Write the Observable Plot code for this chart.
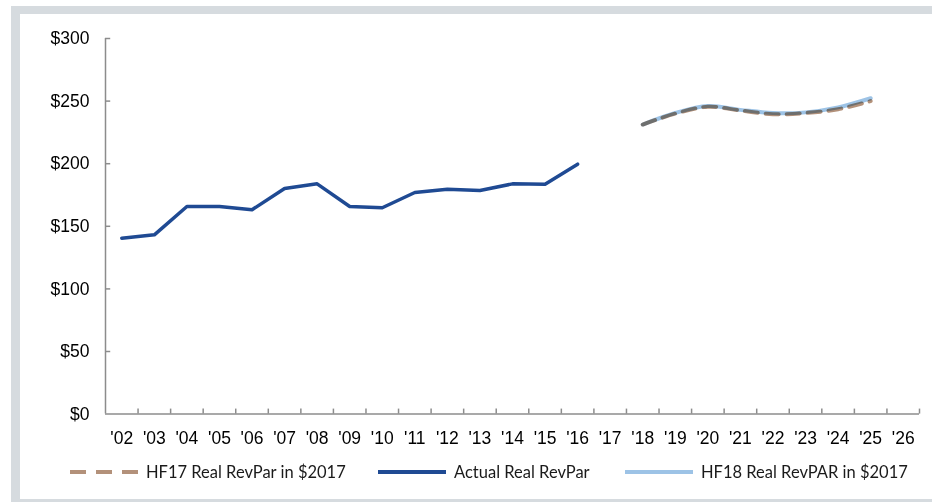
<!DOCTYPE html>
<html><head><meta charset="utf-8">
<script src="https://cdn.jsdelivr.net/npm/d3@7"></script>
<script src="https://cdn.jsdelivr.net/npm/@observablehq/plot@0.6"></script>
<style>
html,body{margin:0;padding:0;background:#fff;width:932px;height:502px;overflow:hidden}
#frame{position:absolute;left:11px;top:6px;width:921px;height:496px;background:#d6dbdf}
#inner{position:absolute;left:20px;top:14px;width:912px;height:485px;background:#fff}
#chart{position:absolute;left:0;top:0}
#legend{position:absolute;top:462px;left:0;width:932px;height:20px;font-family:Lato, "Noto Sans", sans-serif;font-size:16.5px;color:#1a1a1a}
.item{position:absolute;top:0;display:flex;align-items:center;height:20px;white-space:nowrap}
.item svg{margin-right:8px}
</style>
</head><body>
<div id="frame"></div>
<div id="inner"></div>
<div id="chart"></div>
<div id="legend"></div>
<script>
// ---- data ----
const actualYears = [2002,2003,2004,2005,2006,2007,2008,2009,2010,2011,2012,2013,2014,2015,2016];
const actualRevPar = [140.5,143.2,165.8,165.8,163.2,180.2,183.9,165.8,164.8,177.0,179.6,178.6,183.9,183.6,199.6];
const forecastYears = [2018,2019,2020,2021,2022,2023,2024,2025];
const hf17RevPar = [231.3,240.0,245.5,242.5,239.5,240.5,243.5,250.0];
const hf18RevPar = [231.3,240.5,246.0,243.0,240.5,241.0,245.0,252.3];
const xTickYears = [2002,2003,2004,2005,2006,2007,2008,2009,2010,2011,2012,2013,2014,2015,2016,2017,2018,2019,2020,2021,2022,2023,2024,2025,2026];
const xTickLabels = ["'02","'03","'04","'05","'06","'07","'08","'09","'10","'11","'12","'13","'14","'15","'16","'17","'18","'19","'20","'21","'22","'23","'24","'25","'26"];
const yTicks = [0,50,100,150,200,250,300];
const yTickLabels = ["$0","$50","$100","$150","$200","$250","$300"];
const seriesNames = ["HF17 Real RevPar in $2017","Actual Real RevPar","HF18 Real RevPAR in $2017"];

// ---- build ----
const colors = {hf17:"#b3917a", actual:"#1f4a93", hf18:"#9dc3e6", axis:"#8c8c8c"};
const actual = actualYears.map((y,i)=>({year:y, v:actualRevPar[i]}));
const hf17 = forecastYears.map((y,i)=>({year:y, v:hf17RevPar[i]}));
const hf18 = forecastYears.map((y,i)=>({year:y, v:hf18RevPar[i]}));
const xLab = new Map(xTickYears.map((y,i)=>[y,xTickLabels[i]]));
const yLab = new Map(yTicks.map((y,i)=>[y,yTickLabels[i]]));
const x0 = xTickYears[0]-0.5, x1 = xTickYears[xTickYears.length-1]+0.5;
const bounds = xTickYears.map(y=>y+0.5);

const chart = Plot.plot({
  width:932, height:460,
  marginLeft:105, marginRight:13, marginTop:38, marginBottom:46.4,
  x:{domain:[x0,x1]},
  y:{domain:[0,300]},
  style:{fontFamily:"'Liberation Sans', Arial, sans-serif", fontSize:"17.5px", color:"#000", background:"transparent", overflow:"visible"},
  marks:[
    Plot.axisY(yTicks, {tickSize:0, tickPadding:16, tickFormat:d=>yLab.get(d), label:null}),
    Plot.axisX(xTickYears, {tickSize:0, tickPadding:17, tickFormat:d=>xLab.get(d), label:null}),
    Plot.ruleX([x0], {stroke:colors.axis, strokeWidth:1.5}),
    Plot.ruleY([0], {stroke:colors.axis, strokeWidth:1.5}),
    Plot.ruleX(bounds, {x:d=>d, y1:0, y2:4, stroke:colors.axis, strokeWidth:1.5}),
    Plot.ruleY(yTicks.slice(1), {y:d=>d, x1:x0, x2:x0+0.16, stroke:colors.axis, strokeWidth:1.5}),
    Plot.line(actual, {x:"year", y:"v", stroke:colors.actual, strokeWidth:3.5, strokeLinecap:"round", strokeLinejoin:"round"}),
    Plot.line(hf17, {x:"year", y:"v", stroke:colors.hf17, strokeWidth:4, strokeDasharray:"13 8", curve:"catmull-rom"}),
    Plot.line(hf18, {x:"year", y:"v", stroke:colors.hf18, strokeWidth:4, strokeLinecap:"round", curve:"catmull-rom", mixBlendMode:"multiply"})
  ]
});
document.getElementById("chart").appendChild(chart);

// ---- legend ----
const legendItems = [
  {name:seriesNames[0], color:colors.hf17, dash:"16 10", left:70},
  {name:seriesNames[1], color:colors.actual, dash:null, left:378},
  {name:seriesNames[2], color:colors.hf18, dash:null, left:625}
];
const lg = document.getElementById("legend");
legendItems.forEach(it=>{
  const d = document.createElement("div");
  d.className = "item";
  d.style.left = it.left + "px";
  d.innerHTML = `<svg width="68" height="8"><line x1="0" y1="4" x2="68" y2="4" stroke="${it.color}" stroke-width="4" ${it.dash?`stroke-dasharray="${it.dash}"`:""}/></svg><span>${it.name}</span>`;
  lg.appendChild(d);
});
</script>
</body></html>
